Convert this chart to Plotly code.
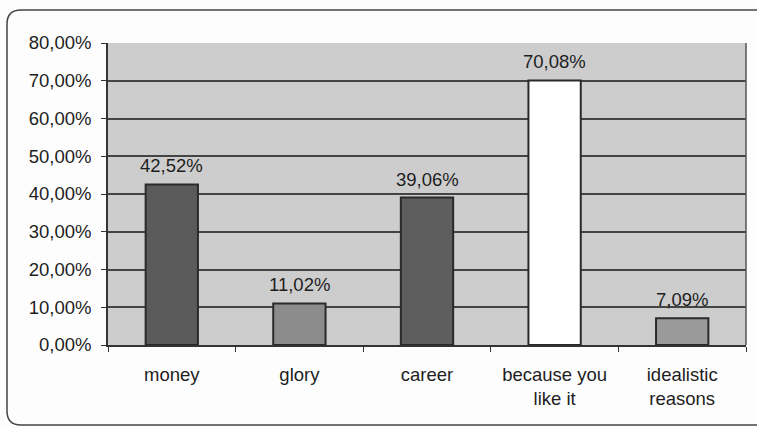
import plotly.graph_objects as go

categories = ["money", "glory", "career", "because you<br>like it", "idealistic<br>reasons"]
values = [42.52, 11.02, 39.06, 70.08, 7.09]
bar_colors = ["#5a5a5a", "#8c8c8c", "#5e5e5e", "#ffffff", "#9a9a9a"]
tick_vals = [0, 10, 20, 30, 40, 50, 60, 70, 80]
tick_text = ["0,00%", "10,00%", "20,00%", "30,00%", "40,00%", "50,00%", "60,00%", "70,00%", "80,00%"]
labels = [("%.2f%%" % v).replace(".", ",") for v in values]

FONT = "Liberation Sans, Arial, sans-serif"
TXT = "#1e1e1e"

fig = go.Figure()
fig.add_trace(go.Bar(
    x=categories, y=values,
    marker=dict(color=bar_colors, line=dict(color="#2a2a2a", width=2)),
    width=0.41,
))

for c, v, t in zip(categories, values, labels):
    fig.add_annotation(x=c, y=v, text=t, showarrow=False, yanchor="bottom",
                       yshift=6, font=dict(family=FONT, size=18.5, color=TXT))

fig.update_layout(
    width=757, height=428,
    margin=dict(l=108, r=11, t=43, b=83),
    paper_bgcolor="#fdfdfd",
    plot_bgcolor="#cdcdcd",
    showlegend=False,
    font=dict(family=FONT, size=18.5, color=TXT),
    xaxis=dict(
        showgrid=False, showline=True, linecolor="#333333", linewidth=1.5,
        ticks="outside", tickson="boundaries", ticklen=5, tickcolor="#333333",
        tickfont=dict(size=18.5, color=TXT), ticklabelstandoff=12,
    ),
    yaxis=dict(
        range=[0, 80], tickvals=tick_vals, ticktext=tick_text,
        showgrid=True, gridcolor="#444444", gridwidth=1.5,
        showline=True, linecolor="#333333", linewidth=1.5,
        ticks="outside", ticklen=5, tickcolor="#333333",
        tickfont=dict(size=18.5, color=TXT), zeroline=False,
        ticklabelstandoff=6,
    ),
)

fig.add_shape(type="line", xref="paper", yref="paper", x0=1, x1=1, y0=0, y1=1,
              line=dict(color="#555555", width=1.5))

# rounded outer frame in pixel-equivalent paper coordinates
W, H = 757, 428
pw, ph = W - 108 - 11, H - 43 - 83
def px(x):
    return (x - 108) / pw
def py(y):
    return (H - 83 - y) / ph
x0, x1, y0, y1, r = 7, 760, 10, 425, 14
path = (f"M {px(x1)} {py(y0)} L {px(x0+r)} {py(y0)} "
        f"Q {px(x0)} {py(y0)} {px(x0)} {py(y0+r)} "
        f"L {px(x0)} {py(y1-r)} Q {px(x0)} {py(y1)} {px(x0+r)} {py(y1)} L {px(x1)} {py(y1)}")
fig.add_shape(type="path", xref="paper", yref="paper", path=path,
              line=dict(color="#444444", width=1.5), layer="below")

fig.write_html("out.html")
